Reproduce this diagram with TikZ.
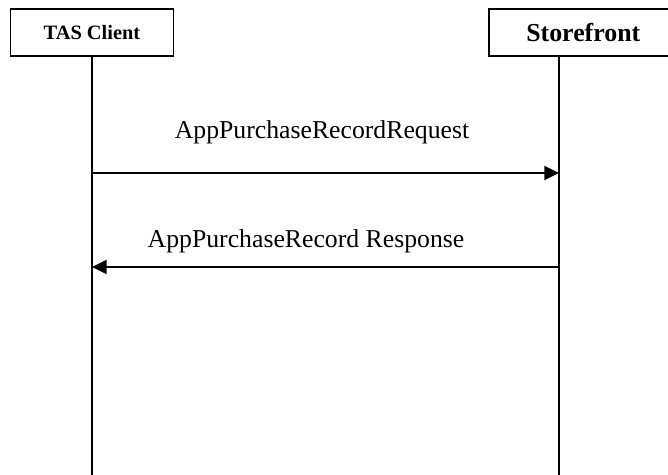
\documentclass[tikz,border=0pt]{standalone}
\usepackage{fontspec}
\setmainfont{Liberation Serif}
\usetikzlibrary{arrows.meta,positioning}
\tikzset{
  party/.style={draw=black,line width=1.2pt,fill=white,align=center,minimum height=35.25pt},
  lifeline/.style={draw=black,line width=1.2pt},
  msg/.style={-{Triangle[length=11pt,width=10.5pt]},line width=1.2pt,draw=black},
  msglabel/.style={font=\fontsize{19.3}{22}\selectfont,inner sep=2pt}
}

\begin{document}
\begin{tikzpicture}[x=0.75pt,y=-0.75pt]
  \useasboundingbox (0,0) rectangle (668,475);
  \clip (0,0) rectangle (668,475);

  % participants (storefront box runs off the right edge)
  \node (tas) [party,minimum width=122.25pt,font=\bfseries\fontsize{15.3}{18}\selectfont] at (92,32.5) {TAS Client};
  \node (store) [party,minimum width=141.75pt,anchor=west,font=\bfseries\fontsize{19.4}{22}\selectfont] at (488,32.5) {Storefront};

  % lifelines
  \coordinate (storeX) at (559,0);
  \coordinate (storeTop) at (store.south -| storeX);
  \coordinate (tasEnd) at (92,475);
  \coordinate (storeEnd) at (559,475);
  \draw[lifeline] (tas.south) -- (tasEnd);
  \draw[lifeline] (storeTop) -- (storeEnd);

  % messages
  \coordinate (reqFrom) at (92,173);
  \coordinate (reqTo) at (559,173);
  \coordinate (resFrom) at (559,267);
  \coordinate (resTo) at (92,267);
  \draw[msg] (reqFrom) -- node[msglabel,above=19pt,xshift=-2.6pt] {AppPurchaseRecordRequest} (reqTo);
  \draw[msg] (resFrom) -- node[msglabel,above=8pt,xshift=-14.6pt] {AppPurchaseRecord Response} (resTo);
\end{tikzpicture}
\end{document}
